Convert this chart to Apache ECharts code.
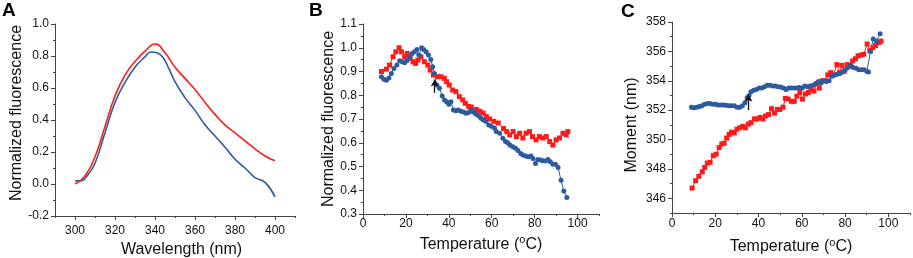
<!DOCTYPE html>
<html>
<head>
<meta charset="utf-8">
<script src="https://cdn.jsdelivr.net/npm/echarts@6.0.0/dist/echarts.min.js"></script>
<style>
  html, body { margin: 0; padding: 0; background: #fff; }
  #main { width: 913px; height: 258px; }
</style>
</head>
<body>
<div id="main"></div>
<script>
// panel A: emission spectra
var wlRedA = [300, 305, 310, 315, 320, 325, 330, 335, 340, 345, 350, 355, 360, 365, 370, 375, 380, 385, 390, 395, 400];
var redA = [0.0, 0.05, 0.17, 0.36, 0.55, 0.68, 0.765, 0.83, 0.875, 0.82, 0.73, 0.66, 0.59, 0.51, 0.435, 0.37, 0.32, 0.27, 0.22, 0.175, 0.145];
var wlBlueA = [300, 303, 306, 310, 315, 320, 325, 330, 335, 338, 341, 344, 347, 350, 355, 360, 365, 370, 375, 380, 385, 390, 395, 400];
var blueA = [0.02, 0.02, 0.05, 0.13, 0.32, 0.51, 0.635, 0.73, 0.795, 0.825, 0.82, 0.79, 0.72, 0.64, 0.54, 0.46, 0.37, 0.30, 0.23, 0.155, 0.10, 0.04, 0.01, -0.08];

// panel B: normalized fluorescence vs temperature
var tRedB = [8.6, 10.9, 12.4, 14, 15.3, 16.8, 17.9, 19.4, 20.6, 22, 23.3, 24.5, 25.6, 27, 28.6, 30.2, 31.3, 32.8, 34.8, 36.3, 37.9, 39, 40.2, 41.8, 43.3, 44.9, 46.5, 47.7,
  49.2, 50.5, 52.8, 54.4, 56, 57.5, 59, 61, 63, 65.5, 67, 68.4, 70, 71.5, 73, 74.5, 76, 77.6, 79, 80.7, 82.2, 83.8, 85.4, 87, 88.5, 90, 91.6, 93.2, 94.7, 95.5];
var redB = [0.90, 0.91, 0.927, 0.962, 0.983, 1.0, 0.983, 0.962, 0.976, 0.955, 0.941, 0.934, 0.948, 0.962, 0.941, 0.927, 0.906, 0.885, 0.878, 0.878, 0.871, 0.857, 0.843, 0.822, 0.815, 0.794, 0.78, 0.766,
  0.753, 0.75, 0.74, 0.732, 0.725, 0.71, 0.70, 0.69, 0.683, 0.66, 0.647, 0.633, 0.647, 0.626, 0.64, 0.62, 0.64, 0.647, 0.626, 0.612, 0.626, 0.62, 0.626, 0.605, 0.59, 0.612, 0.62, 0.64, 0.633, 0.647];
var tBlueB = [8.6, 9.7, 10.9, 12.1, 13.2, 14.4, 15.8, 17.1, 18.3, 19.4, 20.5, 21.7, 22.9, 24, 25.1, 26, 27.3, 28.3, 29.4, 30.5, 31.6, 32.5, 33.3, 34.4, 35.6, 36.9, 38, 39, 40, 41,
  42.1, 43.3, 44.4, 45.6, 46.9, 48, 49.2, 50.3, 51.4, 52.6, 53.9, 55, 56, 57.3, 58.6, 59.8, 61.3, 62.1, 63.7, 65.2, 66.4, 67.5, 68.6, 69.9, 71.1, 72.2, 73.5, 74.5, 75.8,
  77, 78.3, 79.2, 80.4, 81.5, 82.8, 83.8, 85.1, 86.2, 87.3, 88.5, 89.7, 90.9, 92.3, 93.6, 95];
var blueB = [0.878, 0.867, 0.863, 0.873, 0.892, 0.913, 0.927, 0.945, 0.941, 0.937, 0.945, 0.962, 0.976, 0.983, 0.993, 0.969, 1.0, 0.993, 0.983, 0.969, 0.951, 0.92, 0.892, 0.843, 0.829, 0.797, 0.78, 0.773, 0.762, 0.773,
  0.738, 0.735, 0.738, 0.733, 0.73, 0.724, 0.727, 0.738, 0.73, 0.72, 0.713, 0.703, 0.696, 0.689, 0.675, 0.669, 0.662, 0.647, 0.64, 0.619, 0.605, 0.60, 0.59, 0.583, 0.577, 0.567, 0.555, 0.548, 0.544,
  0.541, 0.544, 0.534, 0.513, 0.53, 0.527, 0.524, 0.523, 0.53, 0.52, 0.51, 0.51, 0.496, 0.442, 0.397, 0.369];
var arrowB = [[33.4, 0.81], [33.4, 0.866]];

// panel C: spectral moment vs temperature
var tRedC = [9.3, 10.9, 12.4, 14, 15.1, 16.3, 17.6, 19.1, 20.4, 21.8, 23, 24.1, 25.3, 26.4, 27.5, 28.8, 30, 31.3, 32.7, 33.9, 35.3, 36.5, 38.1, 39.3, 40.7, 42, 43.2, 44.6, 46, 47.4,
  48.7, 49.9, 51.3, 52.4, 53.7, 55.2, 56.5, 57.7, 59.1, 60.3, 61.7, 63, 64.2, 65.6, 66.9, 68.1, 69.5, 70.8, 72, 73.3, 74.6, 76.2, 77.4, 78.5, 79.6, 80.9, 82.1, 83.5, 84.8,
  86, 87.4, 88.6, 90.2, 91.4, 92.8, 94.1, 95.6, 96.6];
var momRedC = [346.7, 347.2, 347.5, 347.8, 348.1, 348.4, 348.45, 348.9, 349.0, 349.45, 349.7, 349.75, 350.1, 350.35, 350.5, 350.45, 350.7, 350.8, 350.9, 350.8, 351.05, 351.15, 351.4, 351.4, 351.5, 351.4, 351.6, 351.7, 352.1, 351.8,
  352.05, 352.05, 352.2, 352.8, 352.75, 352.6, 352.6, 352.95, 353.2, 352.75, 353.1, 353.2, 353.4, 353.3, 353.8, 353.5, 354.0, 354.0, 354.4, 354.55, 354.4, 355.1, 354.55, 355.05, 354.65, 355.1, 355.0, 355.35, 355.5,
  355.7, 355.75, 355.8, 356.5, 356.05, 356.25, 356.4, 356.6, 356.7];
var tBlueC = [9, 10.1, 11.4, 12.6, 13.8, 15.1, 16.3, 17.6, 18.8, 20.1, 21.3, 22.6, 23.8, 25, 26.3, 27.5, 28.8, 30, 31.3, 32.5, 33.7, 34.7, 35.6, 36.5, 37.8, 39, 40.3, 41.5, 42.8, 44,
  45.3, 46.5, 47.7, 49, 50.2, 51.5, 52.7, 54, 55.2, 56.5, 57.7, 58.9, 60.2, 61.4, 62.7, 63.9, 65.2, 66.4, 67.7, 68.9, 70.1, 71.4, 72.6, 73.9, 75.1, 76.4, 77.6, 78.9, 80.1,
  81.3, 82.6, 83.8, 85.1, 86.3, 87.6, 88.8, 90, 90.8, 91.8, 93, 94.5, 96.2];
var momBlueC = [352.2, 352.17, 352.2, 352.25, 352.3, 352.4, 352.45, 352.45, 352.4, 352.4, 352.35, 352.35, 352.35, 352.33, 352.3, 352.3, 352.3, 352.2, 352.2, 352.3, 352.5, 352.85, 353.0, 353.25, 353.35, 353.4, 353.5, 353.5, 353.6, 353.7,
  353.7, 353.65, 353.65, 353.6, 353.57, 353.5, 353.4, 353.5, 353.5, 353.5, 353.5, 353.55, 353.5, 353.65, 353.6, 353.65, 353.7, 353.8, 353.95, 353.85, 354.0, 353.95, 354.0, 354.3, 354.4, 354.45, 354.5, 354.6, 354.75,
  354.9, 355.05, 354.9, 354.85, 354.75, 354.75, 354.75, 354.65, 354.6, 356.0, 356.85, 356.7, 357.2];
var arrowC = [[35.4, 352.0], [35.4, 353.05]];

// tick labels
var xMajorA = [300, 320, 340, 360, 380, 400];
var xMinorA = [290, 310, 330, 350, 370, 390, 410];
var yMajorA = [-0.2, 0.0, 0.2, 0.4, 0.6, 0.8, 1.0];
var yMinorA = [-0.1, 0.1, 0.3, 0.5, 0.7, 0.9];
var xMajorT = [0, 20, 40, 60, 80, 100];
var xMinorT = [10, 30, 50, 70, 90, 110];
var yMajorB = [0.3, 0.4, 0.5, 0.6, 0.7, 0.8, 0.9, 1.0, 1.1];
var yMinorB = [0.35, 0.45, 0.55, 0.65, 0.75, 0.85, 0.95, 1.05];
var yMajorC = [346, 348, 350, 352, 354, 356, 358];
var yMinorC = [345, 347, 349, 351, 353, 355, 357];

var RED = '#ff1a1a';
var BLUE = '#2c5b9f';
var AXIS = '#444';
var FONT = 'Arial, "Liberation Sans", sans-serif';

function zip(xs, ys) {
	var out = [];
	for (var i = 0; i < xs.length; i++) {
		out.push([xs[i], ys[i]]);
	}
	return out;
}

/* main axis with labels and major ticks */
function mainAxis(grid, pos, min, max, majors, digits, margin, name, nameGap, namePad) {
	return {
		type: 'value', gridIndex: grid, position: pos, min: min, max: max,
		splitLine: { show: false },
		axisLine: { show: true, onZero: false, lineStyle: { color: AXIS, width: 1 } },
		axisTick: { show: true, inside: false, length: 4, customValues: majors, lineStyle: { color: AXIS, width: 1 } },
		axisLabel: {
			show: true, customValues: majors, margin: margin, color: '#111', fontSize: 12, fontFamily: FONT,
			formatter: function (v) { return v.toFixed(digits); }
		},
		name: name, nameLocation: 'middle', nameGap: nameGap,
		nameTextStyle: {
			color: '#111', fontSize: 16, fontFamily: FONT, padding: namePad,
			rich: { s: { fontSize: 11, fontFamily: FONT, color: '#111', padding: [0, 0, 8, 0] } }
		}
	};
}

/* overlay axis that only draws the short minor ticks */
function minorAxis(grid, pos, min, max, minors) {
	return {
		type: 'value', gridIndex: grid, position: pos, min: min, max: max,
		splitLine: { show: false },
		axisLine: { show: false, onZero: false },
		axisTick: { show: true, inside: false, length: 2, customValues: minors, lineStyle: { color: AXIS, width: 1 } },
		axisLabel: { show: false }
	};
}

function lineSeries(xi, yi, data, color) {
	return {
		type: 'line', xAxisIndex: xi, yAxisIndex: yi, data: data,
		showSymbol: false, smooth: 0.5,
		lineStyle: { color: color, width: 1.6 }, itemStyle: { color: color },
		silent: true
	};
}

function markerSeries(xi, yi, data, color, symbol, size) {
	return {
		type: 'line', xAxisIndex: xi, yAxisIndex: yi, data: data,
		symbol: symbol, symbolSize: size, showSymbol: true,
		lineStyle: { color: color, width: 1 }, itemStyle: { color: color },
		silent: true
	};
}

function arrowLine(pts) {
	return {
		silent: true, symbol: ['none', 'arrow'], symbolSize: [6, 7],
		label: { show: false },
		lineStyle: { color: '#111', width: 1.3, type: 'solid' },
		data: [[{ coord: pts[0] }, { coord: pts[1] }]]
	};
}

var myChart = echarts.init(document.getElementById('main'), null, { renderer: 'canvas' });

var blueBSeries = markerSeries(1, 1, zip(tBlueB, blueB), BLUE, 'circle', 5);
blueBSeries.markLine = arrowLine(arrowB);
var blueCSeries = markerSeries(2, 2, zip(tBlueC, momBlueC), BLUE, 'circle', 5);
blueCSeries.markLine = arrowLine(arrowC);

var option = {
	animation: false,
	backgroundColor: '#fff',
	title: [
		{ text: 'A', left: 2, top: 1, padding: 0, textStyle: { fontSize: 19, fontWeight: 'bold', color: '#000', fontFamily: FONT } },
		{ text: 'B', left: 309, top: 1, padding: 0, textStyle: { fontSize: 19, fontWeight: 'bold', color: '#000', fontFamily: FONT } },
		{ text: 'C', left: 621, top: 2, padding: 0, textStyle: { fontSize: 19, fontWeight: 'bold', color: '#000', fontFamily: FONT } }
	],
	grid: [
		{ left: 55, top: 24, width: 240, height: 192, containLabel: false, outerBoundsMode: 'none' },
		{ left: 363, top: 24, width: 236, height: 190, containLabel: false, outerBoundsMode: 'none' },
		{ left: 672, top: 22, width: 238, height: 191, containLabel: false, outerBoundsMode: 'none' }
	],
	xAxis: [
		mainAxis(0, 'bottom', 290, 410, xMajorA, 0, 9, 'Wavelength (nm)', 23, [0, 0, 0, 13]),
		mainAxis(1, 'bottom', 0, 110, xMajorT, 0, 4, 'Temperature ({s|o}C)', 19, 0),
		mainAxis(2, 'bottom', 0, 110, xMajorT, 0, 5, 'Temperature ({s|o}C)', 24, 0),
		minorAxis(0, 'bottom', 290, 410, xMinorA),
		minorAxis(1, 'bottom', 0, 110, xMinorT),
		minorAxis(2, 'bottom', 0, 110, xMinorT)
	],
	yAxis: [
		mainAxis(0, 'left', -0.2, 1.0, yMajorA, 1, 6, 'Normalized fluorescence', 25, [0, 0, 0, 14]),
		mainAxis(1, 'left', 0.3, 1.1, yMajorB, 1, 6, 'Normalized fluorescence', 25, 0),
		mainAxis(2, 'left', 345, 358, yMajorC, 0, 6, 'Moment (nm)', 32, [0, 15, 0, 0]),
		minorAxis(0, 'left', -0.2, 1.0, yMinorA),
		minorAxis(1, 'left', 0.3, 1.1, yMinorB),
		minorAxis(2, 'left', 345, 358, yMinorC)
	],
	series: [
		lineSeries(0, 0, zip(wlBlueA, blueA), BLUE),
		lineSeries(0, 0, zip(wlRedA, redA), RED),
		markerSeries(1, 1, zip(tRedB, redB), RED, 'rect', 5),
		blueBSeries,
		markerSeries(2, 2, zip(tRedC, momRedC), RED, 'rect', 5),
		blueCSeries
	]
};

myChart.setOption(option);
</script>
</body>
</html>
